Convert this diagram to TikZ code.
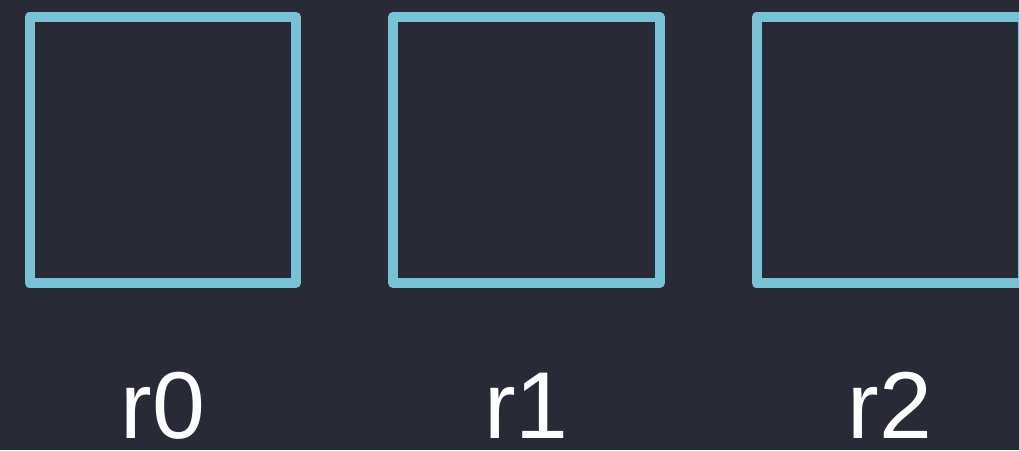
\documentclass[tikz,border=0pt]{standalone}
\usepackage{fontspec}
\setmainfont{Liberation Sans}
\definecolor{bg}{HTML}{282A36}
\definecolor{cyanline}{HTML}{79C1D4}
\begin{document}
\begin{tikzpicture}[x=1pt,y=1pt,
  regbox/.style={draw=cyanline,line width=10pt,line join=round,rectangle,inner sep=0pt,minimum width=266.5pt,minimum height=266pt},
  reglabel/.style={text=white,anchor=base,inner sep=0pt,text depth=0pt,font=\fontsize{95}{100}\selectfont}]
\fill[bg] (0,0) rectangle (1019,450);
\clip (0,0) rectangle (1019,450);
\useasboundingbox (0,0) rectangle (1019,450);
\node[regbox] (b0) at (162.75,300) {};
\node[regbox] (b1) at (526.25,300) {};
\node[regbox] (b2) at (889.75,300) {};
\node[reglabel] (l0) at (162.75,12) {r0};
\node[reglabel] (l1) at (526.25,12) {r1};
\node[reglabel] (l2) at (889.75,12) {r2};
\end{tikzpicture}
\end{document}
